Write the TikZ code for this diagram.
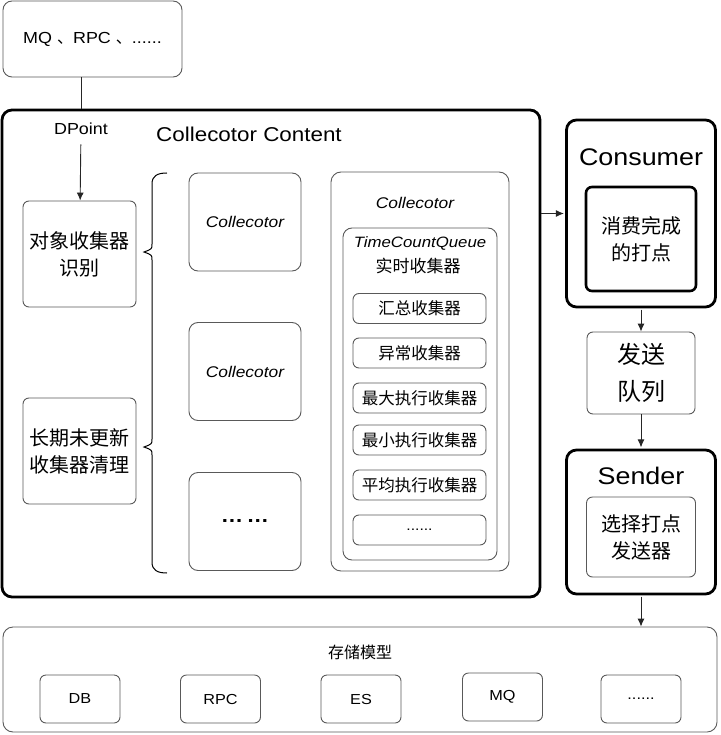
\documentclass[tikz,border=0pt]{standalone}
\usepackage{fontspec}
\setmainfont{Liberation Sans}[FakeStretch=1.12]
\newfontfamily\cjk{Noto Sans CJK SC}
\usetikzlibrary{arrows.meta}
\newcommand\setfs[2]{\fontsize{#1}{#2}\selectfont}

\tikzset{
  box/.style={draw=black!65, line width=0.9pt, rounded corners=6pt, inner sep=0pt, align=center},
  heavy/.style={draw=black, line width=2.8pt, rounded corners=10pt, inner sep=0pt, align=center},
  part/.style={box, minimum width=133pt, minimum height=30pt, font=\cjk\setfs{16.5}{20}},
  sink/.style={box, minimum width=80pt, minimum height=48pt, font=\setfs{14.5}{18}},
  link/.style={draw=black!85, line width=0.9pt, -{Latex[length=8pt,width=7pt]}}
}

\begin{document}
\begin{tikzpicture}[x=1pt,y=-1pt]
    \useasboundingbox (0,0) rectangle (720,735);

    % input
    \node[box, rounded corners=9pt, minimum width=179pt, minimum height=76pt, font=\setfs{16}{20}] (src) at (92.5,39) {MQ {\cjk 、}RPC {\cjk 、}......};

    % collector content
    \node[heavy, minimum width=538pt, minimum height=487pt] (content) at (271,353.5) {};
    \node[font=\setfs{20}{24}] (title) at (249,134) {Collecotor Content};
    \node[font=\setfs{16}{20}] (dpoint) at (81,129) {DPoint};
    \node[box, minimum width=113pt, minimum height=106pt, font=\cjk\setfs{20}{27}] (recog) at (79.5,254) {对象收集器\\识别};
    \node[box, minimum width=113pt, minimum height=106pt, font=\cjk\setfs{20}{27}] (cleanup) at (79.5,451) {长期未更新\\收集器清理};

    \draw[line width=1pt] (167,173) .. controls (157,173) and (152,176) .. (152,184) -- (152,244)
        .. controls (152,249) .. (144,252) .. controls (152,255) .. (152,260) -- (152,439)
        .. controls (152,444) .. (144,447) .. controls (152,450) .. (152,455) -- (152,562)
        .. controls (152,570) and (157,573) .. (167,573);

    \node[box, rounded corners=9pt, minimum width=112pt, minimum height=98pt, font=\itshape\setfs{15.5}{18}] (col1) at (245,222) {Collecotor};
    \node[box, rounded corners=9pt, minimum width=112pt, minimum height=98pt, font=\itshape\setfs{15.5}{18}] (col2) at (245,371.5) {Collecotor};
    \node[box, rounded corners=9pt, minimum width=112pt, minimum height=98pt, font=\bfseries\setfs{20}{24}] (col3) at (245,521.5) {…\,…};

    % realtime collector
    \node[box, rounded corners=10pt, minimum width=178pt, minimum height=399pt] (colbox) at (420,371.5) {};
    \node[font=\itshape\setfs{15.5}{18}] (coltitle) at (415,203) {Collecotor};
    \node[box, rounded corners=9pt, minimum width=154pt, minimum height=332pt] (tcq) at (420,394) {};
    \node[font=\itshape\setfs{15}{18}] (tcqtitle) at (420,243) {TimeCountQueue};
    \node[font=\cjk\setfs{17}{20}] (tcqsub) at (418,266) {实时收集器};
    \node[part] (sum) at (419.5,308.5) {汇总收集器};
    \node[part] (err) at (419.5,353) {异常收集器};
    \node[part] (max) at (419.5,398) {最大执行收集器};
    \node[part] (min) at (419.5,440) {最小执行收集器};
    \node[part] (avg) at (419.5,485) {平均执行收集器};
    \node[part, font=\setfs{14}{18}] (more) at (419.5,530) {......};

    % consumer
    \node[heavy, minimum width=149pt, minimum height=187pt] (consumer) at (641,213.5) {};
    \node[font=\setfs{24}{28}] (contitle) at (641,157) {Consumer};
    \node[heavy, rounded corners=6pt, line width=2.6pt, minimum width=110pt, minimum height=104pt, font=\cjk\setfs{20}{27}] (consumed) at (641,239) {消费完成\\的打点};

    \node[box, minimum width=108pt, minimum height=82pt, font=\cjk\setfs{24}{37}] (sendq) at (641,373) {发送\\队列};

    % sender
    \node[heavy, minimum width=149pt, minimum height=144pt] (sender) at (641,522) {};
    \node[font=\setfs{24}{28}] (sendtitle) at (641,476) {Sender};
    \node[box, minimum width=109pt, minimum height=80pt, font=\cjk\setfs{20}{27}] (pick) at (641,537) {选择打点\\发送器};

    % storage
    \node[box, rounded corners=10pt, minimum width=714pt, minimum height=105pt] (store) at (360,679.5) {};
    \node[font=\cjk\setfs{16}{20}] (storetitle) at (360,652) {存储模型};
    \node[sink] (db) at (80,699) {DB};
    \node[sink] (rpc) at (220.5,699) {RPC};
    \node[sink] (es) at (361,699) {ES};
    \node[sink] (mq) at (502.5,697) {MQ};
    \node[sink] (etc) at (641,699) {......};

    % connectors
    \draw[line width=0.9pt, draw=black!85] (src.south -| dpoint) -- (content.north -| dpoint);
    \draw[link, shorten <=6pt] (dpoint) -- (recog);
    \draw[link, shorten >=1.2pt] (content.east |- consumer.west) -- (consumer.west);
    \draw[link, shorten <=1.2pt] (consumer) -- (sendq);
    \draw[link, shorten >=1.2pt] (sendq) -- (sender);
    \draw[link, shorten <=1.2pt] (sender.south) -- (store.north -| sender);
\end{tikzpicture}
\end{document}
